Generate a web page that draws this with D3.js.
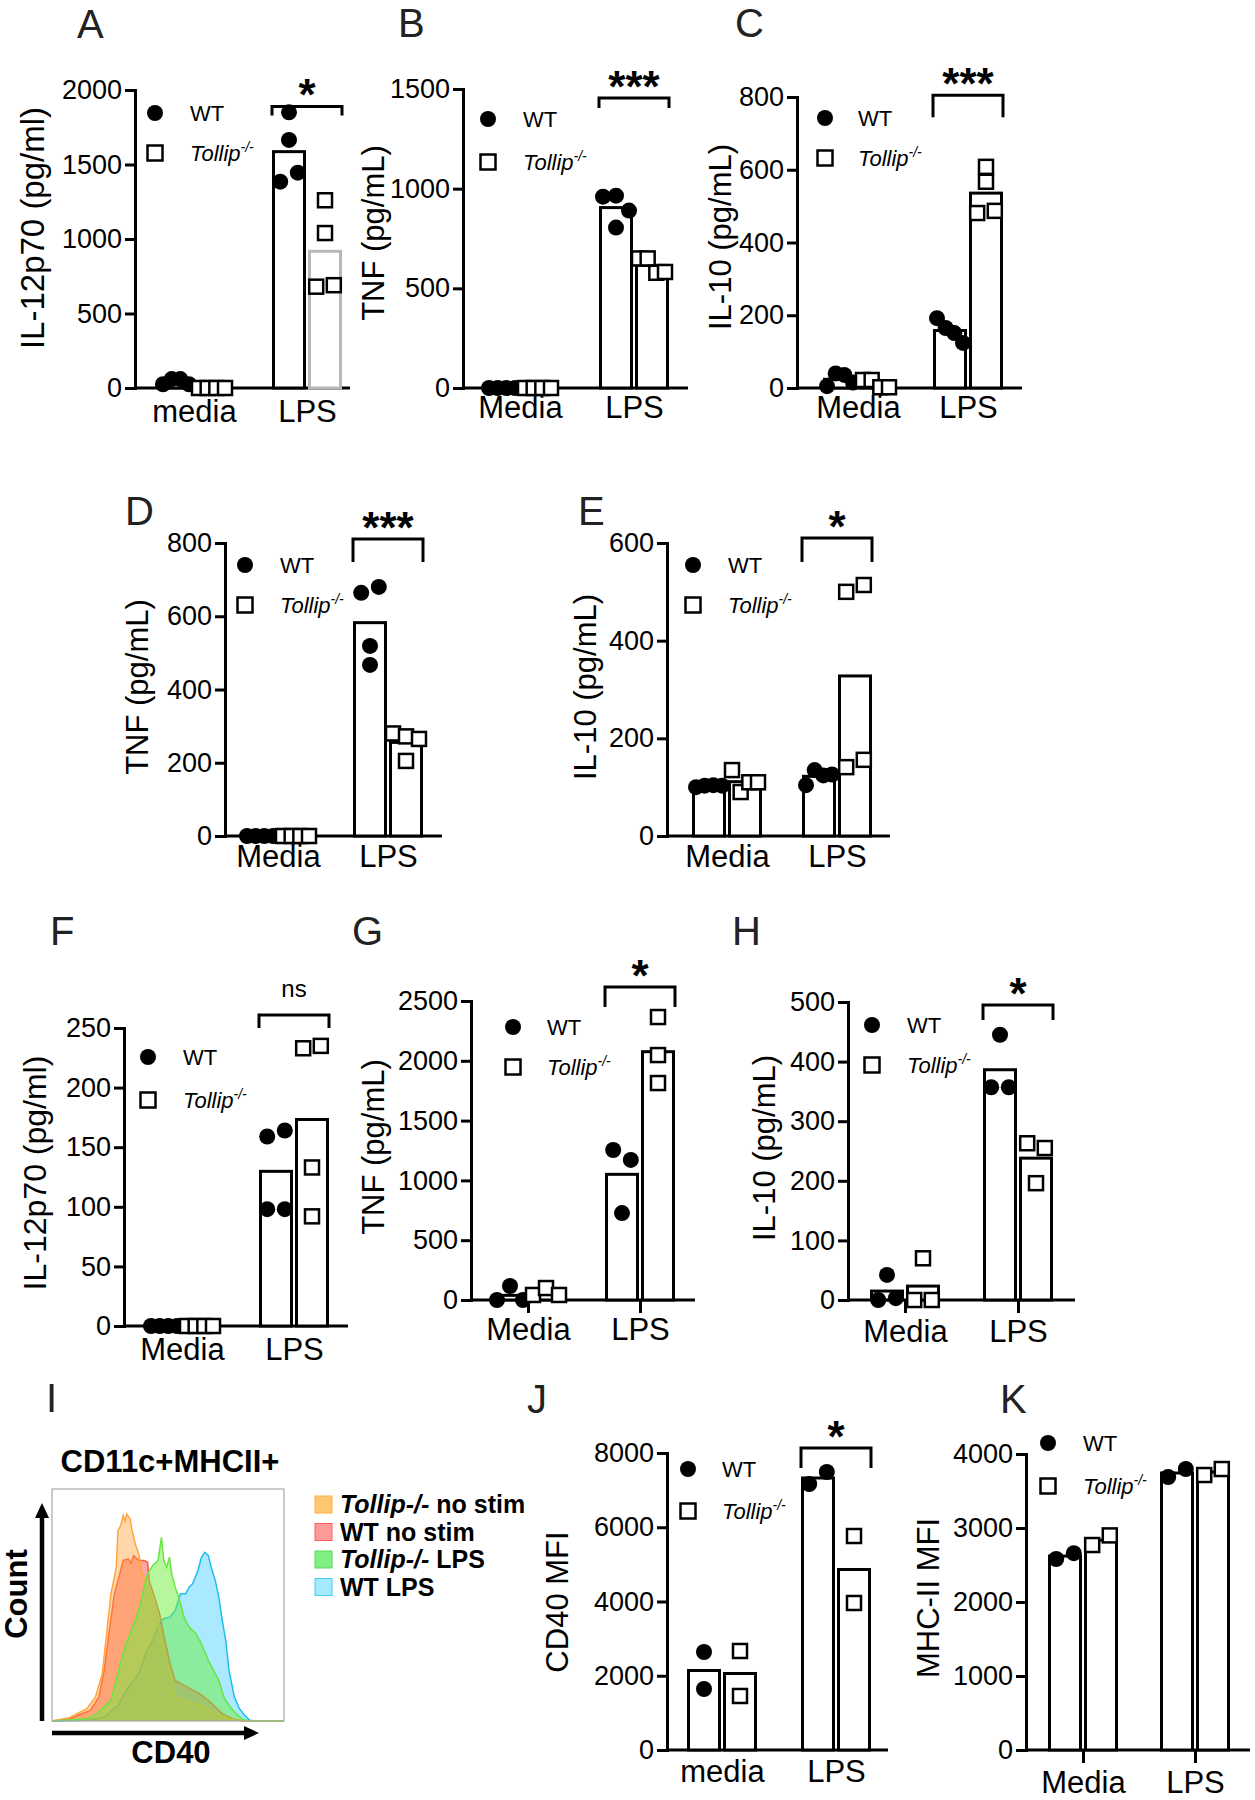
<!DOCTYPE html>
<html>
<head>
<meta charset="utf-8">
<title>Tollip cytokine panels</title>
<script src="https://cdn.jsdelivr.net/npm/d3@7"></script>
<style>
  body { margin: 0; background: #fff; }
  svg text { font-family: "Liberation Sans", Arial, Helvetica, sans-serif; }
</style>
</head>
<body>
<div id="container"></div>
<script>
// ------------------------ DATA ------------------------
// each genotype: [media values, LPS values]
const groupsUpper = ["Media", "LPS"];
const groupsLower = ["media", "LPS"];

const aWT = [[25, 60, 60, 25], [1850, 1665, 1385, 1445]];
const aKO = [[0, 0, 0, 0], [1260, 1040, 680, 690]];

const bWT = [[0, 0, 0, 0], [960, 965, 890, 805]];
const bKO = [[0, 0, 0, 0], [650, 650, 578, 582]];

const cWT = [[5, 40, 36, 15], [192, 165, 151, 124]];
const cKO = [[22, 22, 2, 2], [567, 608, 481, 487]];

const dWT = [[0, 0, 0, 0], [664, 680, 519, 467]];
const dKO = [[0, 0, 0, 0], [280, 272, 265, 205]];

const eWT = [[100, 103, 104, 103], [104, 135, 124, 126]];
const eKO = [[135, 90, 110, 110], [500, 514, 141, 156]];

const fWT = [[0, 0, 0, 0], [159, 164, 98, 98]];
const fKO = [[0, 0, 0, 0], [233, 235, 133, 92]];

const gWT = [[0, 117, 0], [1254, 1171, 727]];
const gKO = [[42, 100, 42], [2366, 2048, 1814]];

const hWT = [[0, 42, 3], [445, 357, 357]];
const hKO = [[0, 70, 0], [263, 255, 196]];

const jWT = [[2640, 1643], [7165, 7488]];
const jKO = [[2667, 1455], [5764, 3960]];

const kWT = [[2581, 2660], [3689, 3797]];
const kKO = [[2770, 2900], [3716, 3797]];

// CD40 histograms, [channel %, count % of max]
const histNames = ["Tollip-/- no stim", "WT no stim", "Tollip-/- LPS", "WT LPS"];
const histKOnostim = [[0,0],[7.5,1.4],[15,5.3],[18.7,10.3],[21.7,20.4],[23.2,34.7],[25.4,54.8],[27.7,66.3],[28.4,82.1],[29.5,84],[30.7,88.5],[31.4,86],[32.2,89.2],[33.7,87.1],[34.4,82.8],[35.9,76.3],[37.4,72],[38.9,63.4],[40.4,60.5],[41.9,57],[43.4,51.9],[45.7,43.3],[47.9,31.9],[50.9,20.4],[53.1,10.3],[58.4,8.2],[64.4,6.7],[70.4,3.2],[76.3,1],[82.3,0],[100,0]];
const histWTnostim = [[0,0],[7.5,1],[16.5,4.6],[20.2,10.3],[22.5,21.8],[24.7,39],[26.9,54.8],[29.2,63.4],[30.7,69.2],[32.9,69.9],[34,68],[35.2,71.3],[37.4,69.2],[39.7,69.2],[41.2,68.4],[41.9,60.5],[44.2,53.4],[46.4,46.2],[48.7,34.7],[50.9,24.7],[53.1,17.5],[58.4,14.6],[63.6,11.8],[67.4,8.9],[73.4,3.2],[77.8,1],[82.3,0],[100,0]];
const histKOlps = [[0,0],[15,1],[19.5,3.2],[25.4,8.9],[28.4,20.4],[31.4,31.9],[33.7,37.6],[35.9,43.3],[38.2,50.5],[39.7,57.7],[41.2,63.4],[43.4,67],[45.7,69.2],[47.2,79.2],[48.2,69.2],[49.4,66.3],[50.6,70.6],[51.6,63.4],[53.1,57.7],[54.6,53.4],[56.9,44.8],[59.1,40.5],[62.1,37.6],[64.4,33.3],[67.4,26.1],[69.6,21.8],[71.9,17.5],[74.1,10.3],[76.3,6.7],[79.3,3.2],[82.3,0.6],[85.3,0],[100,0]];
const histWTlps = [[0,0],[15,0.3],[22.5,1.7],[28.4,6.7],[32.9,14.6],[37.4,20.4],[40.4,29],[43.4,34.7],[45.7,40.5],[47.9,44],[50.9,44.8],[53.1,47.6],[55.4,54.8],[57.6,54.8],[59.1,57.7],[60.6,59.1],[62.9,64.8],[64.4,70.6],[65.9,72.7],[67.4,71.3],[68.6,66.3],[70.4,60.5],[71.9,53.4],[73.4,43.3],[74.9,34.7],[76.3,21.8],[78.6,10.3],[80.8,5.3],[83.1,2.4],[85.3,0.3],[88.3,0],[100,0]];

// ------------------------ LAYOUT ------------------------
const panels = [
  { letter: "A", wt: aWT, ko: aKO, groups: groupsLower, yMax: 2000, step: 500, ylab: "IL-12p70 (pg/ml)", sig: "*", sigAt: 1890,
    ax: 135, y0: 388, y1: 90, xEnd: 350, cx: [194, 307], lab: [32, 228, 33], let: [77, 38], leg: [155, 113, 190, 40], xlabY: 422, brTick: 9, koStroke: "#b8b8b8" },
  { letter: "B", wt: bWT, ko: bKO, groups: groupsUpper, yMax: 1500, step: 500, ylab: "TNF (pg/mL)", sig: "***", sigAt: 1455,
    ax: 463, y0: 388, y1: 89, xEnd: 688, cx: [520, 634], lab: [373, 233, 31], let: [398, 37], leg: [488, 119, 523, 43], xlabY: 418, brTick: 10 },
  { letter: "C", wt: cWT, ko: cKO, groups: groupsUpper, yMax: 800, step: 200, ylab: "IL-10 (pg/mL)", sig: "***", sigAt: 805,
    ax: 797, y0: 388, y1: 97, xEnd: 1022, cx: [858, 968], lab: [720, 237, 31], let: [735, 37], leg: [825, 118, 858, 40], xlabY: 418, brTick: 22 },
  { letter: "D", wt: dWT, ko: dKO, groups: groupsUpper, yMax: 800, step: 200, ylab: "TNF (pg/mL)", sig: "***", sigAt: 811,
    ax: 225, y0: 836, y1: 543, xEnd: 442, cx: [278, 388], lab: [137, 687, 31], let: [125, 525], leg: [245, 565, 280, 40], xlabY: 867, brTick: 23 },
  { letter: "E", wt: eWT, ko: eKO, groups: groupsUpper, yMax: 600, step: 200, ylab: "IL-10 (pg/mL)", sig: "*", sigAt: 610,
    ax: 667, y0: 836, y1: 543, xEnd: 890, cx: [727, 837], lab: [585, 687, 31], let: [578, 525], leg: [693, 565, 728, 40], xlabY: 867, brTick: 24 },
  { letter: "F", wt: fWT, ko: fKO, groups: groupsUpper, yMax: 250, step: 50, ylab: "IL-12p70 (pg/ml)", sig: "ns", sigAt: 261,
    ax: 124, y0: 1326, y1: 1028, xEnd: 348, cx: [182, 294], lab: [35, 1173, 32], let: [50, 945], leg: [148, 1057, 183, 43], xlabY: 1360, brTick: 13 },
  { letter: "G", wt: gWT, ko: gKO, groups: groupsUpper, yMax: 2500, step: 500, ylab: "TNF (pg/mL)", sig: "*", sigAt: 2617,
    ax: 471, y0: 1300, y1: 1001, xEnd: 695, cx: [528, 640], lab: [373, 1147, 31], let: [352, 945], leg: [513, 1027, 547, 40], xlabY: 1340, brTick: 20, xTicks: true },
  { letter: "H", wt: hWT, ko: hKO, groups: groupsUpper, yMax: 500, step: 100, ylab: "IL-10 (pg/mL)", sig: "*", sigAt: 495,
    ax: 848, y0: 1300, y1: 1002, xEnd: 1075, cx: [905, 1018], lab: [764, 1148, 31], let: [732, 945], leg: [872, 1025, 907, 40], xlabY: 1342, brTick: 15, xTicks: true },
  { letter: "J", wt: jWT, ko: jKO, groups: groupsLower, yMax: 8000, step: 2000, ylab: "CD40 MFI", sig: "*", sigAt: 8135,
    ax: 667, y0: 1750, y1: 1453, xEnd: 888, cx: [722, 836], lab: [557, 1602, 31], let: [527, 1413], leg: [688, 1469, 722, 42], xlabY: 1782, brTick: 20 },
  { letter: "K", wt: kWT, ko: kKO, groups: groupsUpper, yMax: 4000, step: 1000, ylab: "MHC-II MFI", sig: null,
    ax: 1026, y0: 1750, y1: 1454, xEnd: 1250, cx: [1083, 1195], lab: [928, 1598, 31], let: [1000, 1413], leg: [1048, 1443, 1083, 43], xlabY: 1793, brTick: 0, xTicks: true }
];

const BW = 34, GAP = 2, DIAM = 16, SQ = 14;

const svg = d3.select("#container").append("svg")
  .attr("width", 1255).attr("height", 1800)
  .style("display", "block").style("background", "#fff");

// spread points that collide vertically, like a column scatter
function spread(vals, y) {
  const pts = vals.map((v, i) => ({ v: v, i: i, py: y(v), dx: 0 }));
  const sorted = pts.slice().sort((a, b) => a.py - b.py);
  const clusters = [];
  let cur = [];
  sorted.forEach(p => {
    if (cur.length && p.py - cur[cur.length - 1].py >= DIAM * 0.9) { clusters.push(cur); cur = []; }
    cur.push(p);
  });
  if (cur.length) clusters.push(cur);
  clusters.forEach(c => {
    const n = c.length;
    if (n < 2) return;
    const sp = Math.min(DIAM * 1.1, (BW - DIAM / 2) / (n - 1));
    c.sort((a, b) => a.i - b.i).forEach((p, k) => { p.dx = (k - (n - 1) / 2) * sp; });
  });
  return pts;
}

function barPanel(p) {
  const g = svg.append("g");
  const y = d3.scaleLinear().domain([0, p.yMax]).range([p.y0, p.y1]);
  const x = d3.scalePoint().domain(p.groups).range(p.cx);

  // letter
  g.append("text").attr("x", p.let[0]).attr("y", p.let[1])
    .attr("font-size", 40).attr("fill", "#222").text(p.letter);

  // y axis
  const yAxis = g.append("g").attr("transform", "translate(" + p.ax + ",0)")
    .call(d3.axisLeft(y).tickValues(d3.range(0, p.yMax + 1, p.step)).tickFormat(d3.format("d"))
      .tickSize(10).tickSizeOuter(0).tickPadding(3));
  yAxis.attr("font-size", 27).attr("font-family", null);
  yAxis.selectAll("path, line").attr("stroke", "#000").attr("stroke-width", 3);
  yAxis.select(".domain").attr("stroke-linecap", "square");
  yAxis.selectAll("text").attr("fill", "#000");

  // x axis
  g.append("line").attr("x1", p.ax).attr("x2", p.xEnd).attr("y1", p.y0).attr("y2", p.y0)
    .attr("stroke", "#000").attr("stroke-width", 3);
  const xAxis = g.append("g").attr("transform", "translate(0," + p.y0 + ")")
    .call(d3.axisBottom(x).tickSize(p.xTicks ? 13 : 0).tickSizeOuter(0));
  xAxis.select(".domain").remove();
  xAxis.attr("font-size", 31).attr("font-family", null);
  xAxis.selectAll("line").attr("stroke", "#000").attr("stroke-width", 3);
  xAxis.selectAll("text").attr("fill", "#000").attr("y", p.xlabY - p.y0).attr("dy", 0);

  // y label
  g.append("text").attr("transform", "translate(" + p.lab[0] + "," + p.lab[1] + ") rotate(-90)")
    .attr("text-anchor", "middle").attr("dominant-baseline", "central")
    .attr("font-size", p.lab[2]).text(p.ylab);

  // bars
  const series = [p.wt, p.ko];
  const barLeft = (gi, s) => x(p.groups[gi]) + (s === 0 ? -GAP / 2 - BW : GAP / 2);
  const barData = [];
  p.groups.forEach((grp, gi) => series.forEach((ser, s) => barData.push({ gi: gi, s: s, m: d3.mean(ser[gi]) })));
  g.selectAll(".bar").data(barData).enter().append("rect")
    .attr("class", "bar")
    .attr("x", d => barLeft(d.gi, d.s) + 1.5)
    .attr("width", BW - 3)
    .attr("y", d => y(d.m))
    .attr("height", d => p.y0 - y(d.m))
    .attr("fill", "#fff")
    .attr("stroke", d => (d.s === 1 && p.koStroke) ? p.koStroke : "#000")
    .attr("stroke-width", 3);

  // points
  p.groups.forEach((grp, gi) => {
    series.forEach((ser, s) => {
      const cxp = barLeft(gi, s) + BW / 2;
      const pts = spread(ser[gi], y);
      if (s === 0) {
        g.selectAll(null).data(pts).enter().append("circle")
          .attr("cx", d => cxp + d.dx).attr("cy", d => d.py).attr("r", DIAM / 2).attr("fill", "#000");
      } else {
        g.selectAll(null).data(pts).enter().append("rect")
          .attr("x", d => cxp + d.dx - SQ / 2).attr("y", d => d.py - SQ / 2)
          .attr("width", SQ).attr("height", SQ)
          .attr("fill", "#fff").attr("stroke", "#000").attr("stroke-width", 2.5);
      }
    });
  });

  // significance bracket
  if (p.sig) {
    const l = barLeft(1, 0), r = barLeft(1, 1) + BW, yb = y(p.sigAt);
    g.append("path")
      .attr("d", "M" + l + "," + (yb + p.brTick) + "V" + yb + "H" + r + "V" + (yb + p.brTick))
      .attr("fill", "none").attr("stroke", "#000").attr("stroke-width", 3);
    if (p.sig === "ns") {
      g.append("text").attr("x", (l + r) / 2).attr("y", yb - 18).attr("text-anchor", "middle")
        .attr("font-size", 24).text("ns");
    } else {
      g.append("text").attr("x", (l + r) / 2).attr("y", yb + 4).attr("text-anchor", "middle")
        .attr("font-size", 44).attr("font-weight", "bold").text(p.sig);
    }
  }

  // legend
  const [lx, ly, tx, gap] = p.leg;
  g.append("circle").attr("cx", lx).attr("cy", ly).attr("r", DIAM / 2).attr("fill", "#000");
  g.append("rect").attr("x", lx - 7.5).attr("y", ly + gap - 7.5).attr("width", 15).attr("height", 15)
    .attr("fill", "#fff").attr("stroke", "#000").attr("stroke-width", 2.5);
  g.append("text").attr("x", tx).attr("y", ly + 8).attr("font-size", 22).text("WT");
  const t = g.append("text").attr("x", tx).attr("y", ly + gap + 8).attr("font-size", 22).attr("font-style", "italic");
  t.append("tspan").text("Tollip");
  t.append("tspan").attr("font-size", 14).attr("dy", -9).text("-/-");
}

panels.forEach(barPanel);

// ------------------------ PANEL I: histogram ------------------------
// drawing order: WT LPS, WT no stim, Tollip no stim, Tollip LPS
const hist = [
  { name: histNames[3], data: histWTlps, fill: "rgb(100,215,255)", op: 0.55, stroke: "#22bbee", sw: "#a4eaff", ss: "#44ccf4" },
  { name: histNames[1], data: histWTnostim, fill: "rgb(255,60,60)", op: 0.45, stroke: "#ff5544", sw: "#ff9a9a", ss: "#ff5a5a" },
  { name: histNames[0], data: histKOnostim, fill: "rgb(255,160,50)", op: 0.42, stroke: "#ffa640", sw: "#ffc870", ss: "#ffb040" },
  { name: histNames[2], data: histKOlps, fill: "rgb(110,240,60)", op: 0.5, stroke: "#66e644", sw: "#80f080", ss: "#5cd85c" }
];

const gi = svg.append("g");
const hx = d3.scaleLinear().domain([0, 100]).range([52, 284]);
const hy = d3.scaleLinear().domain([0, 100]).range([1721, 1489]);

gi.append("text").attr("x", 46).attr("y", 1412).attr("font-size", 40).attr("fill", "#222").text("I");
gi.append("text").attr("x", 170).attr("y", 1472).attr("text-anchor", "middle")
  .attr("font-size", 31).attr("font-weight", "bold").text("CD11c+MHCII+");

const area = d3.area().x(d => hx(d[0])).y0(hy(0)).y1(d => hy(d[1]));
const line = d3.line().x(d => hx(d[0])).y(d => hy(d[1]));
hist.forEach(h => {
  gi.append("path").attr("d", area(h.data)).attr("fill", h.fill).attr("fill-opacity", h.op);
  gi.append("path").attr("d", line(h.data)).attr("fill", "none").attr("stroke", h.stroke).attr("stroke-width", 1.5);
});
gi.append("rect").attr("x", 52).attr("y", 1489).attr("width", 232).attr("height", 232)
  .attr("fill", "none").attr("stroke", "#a8a8a8").attr("stroke-width", 1.2);

// arrows
gi.append("line").attr("x1", 42).attr("x2", 42).attr("y1", 1721).attr("y2", 1512)
  .attr("stroke", "#000").attr("stroke-width", 4.5);
gi.append("path").attr("d", "M42,1503L35,1518L49,1518Z").attr("fill", "#000");
gi.append("line").attr("x1", 52).attr("x2", 250).attr("y1", 1733).attr("y2", 1733)
  .attr("stroke", "#000").attr("stroke-width", 4.5);
gi.append("path").attr("d", "M259,1733L244,1726L244,1740Z").attr("fill", "#000");

gi.append("text").attr("transform", "translate(16,1594) rotate(-90)")
  .attr("text-anchor", "middle").attr("dominant-baseline", "central")
  .attr("font-size", 31).attr("font-weight", "bold").text("Count");
gi.append("text").attr("x", 171).attr("y", 1763).attr("text-anchor", "middle")
  .attr("font-size", 31).attr("font-weight", "bold").text("CD40");

// legend (top to bottom: Tollip no stim, WT no stim, Tollip LPS, WT LPS)
const legOrder = [hist[2], hist[1], hist[3], hist[0]];
legOrder.forEach((h, i) => {
  const yy = 1496 + i * 27.5;
  gi.append("rect").attr("x", 315).attr("y", yy).attr("width", 17).attr("height", 17)
    .attr("fill", h.sw).attr("stroke", h.ss).attr("stroke-width", 1);
  const t = gi.append("text").attr("x", 340).attr("y", yy + 17).attr("font-size", 25).attr("font-weight", "bold");
  if (h.name.startsWith("Tollip")) {
    t.append("tspan").attr("font-style", "italic").text("Tollip-/-");
    t.append("tspan").text(h.name.slice(9));
  } else {
    t.text(h.name);
  }
});
</script>
</body>
</html>
